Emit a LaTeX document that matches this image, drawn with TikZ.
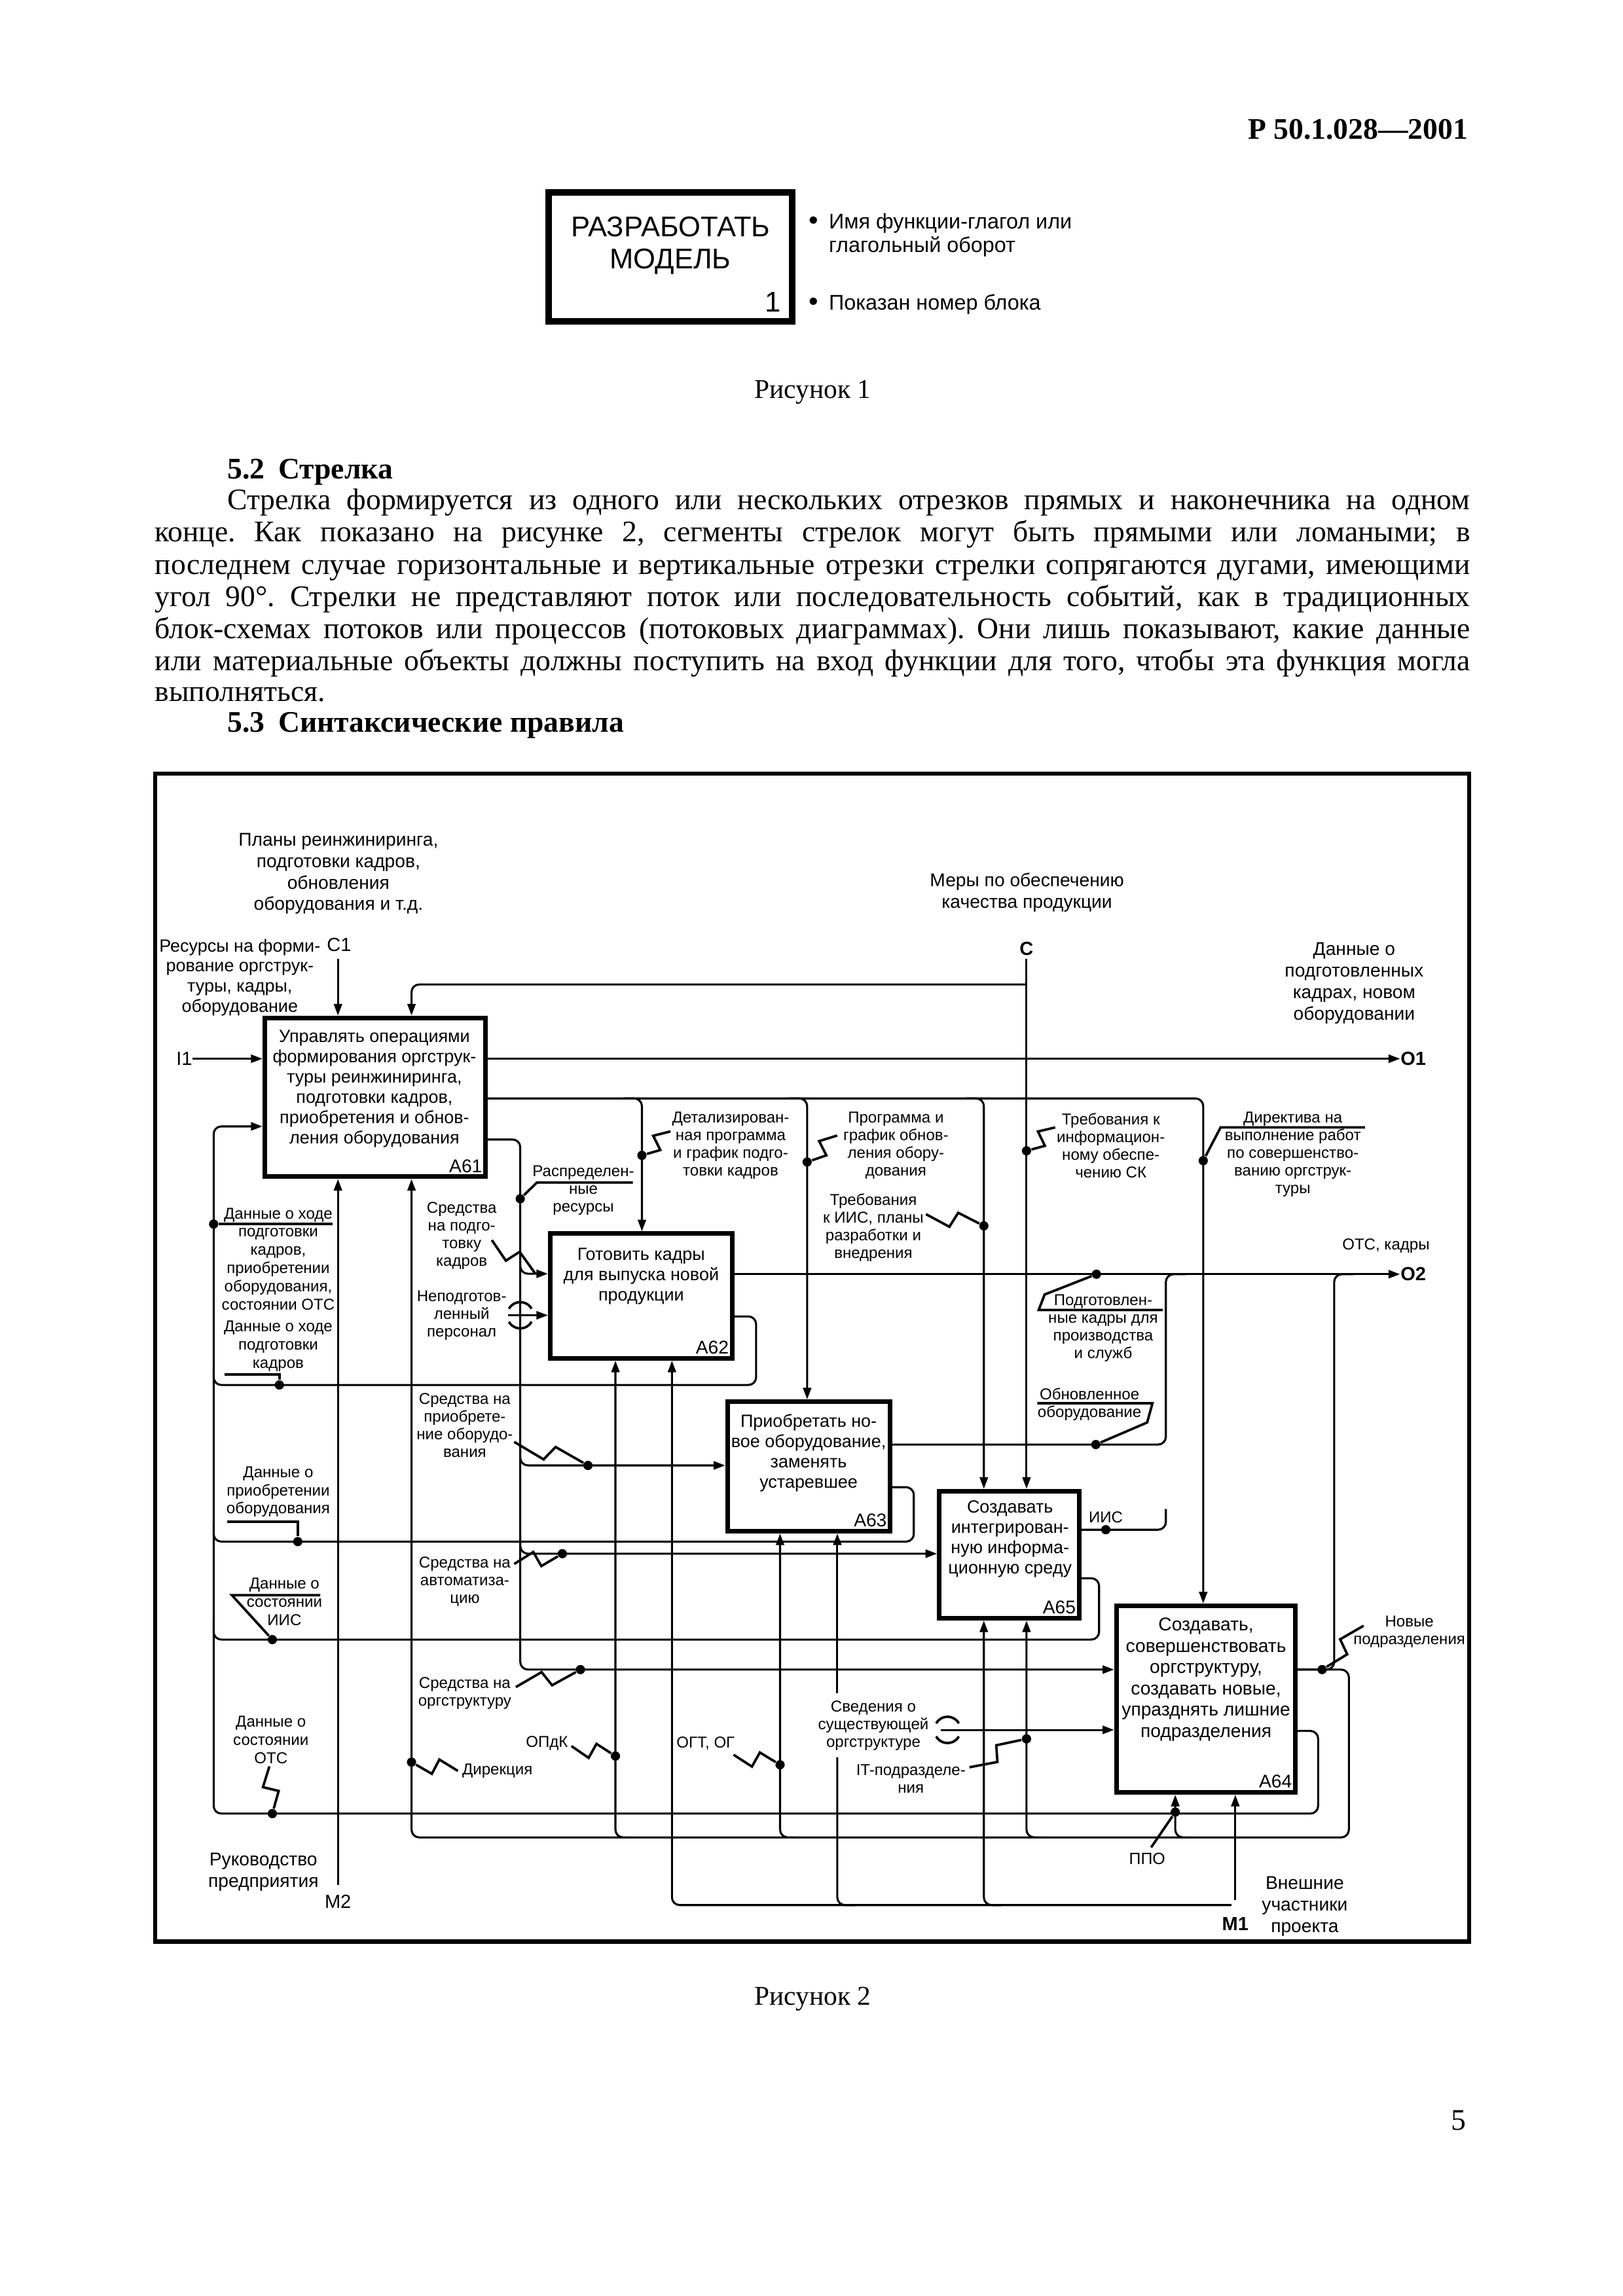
\documentclass[tikz,border=0pt]{standalone}
\usepackage{fontspec}
\setmainfont{Liberation Serif}
\newfontfamily\arialf{Liberation Sans}
\usetikzlibrary{arrows.meta,calc,fit}
\frenchspacing
\newcommand\fsz[2]{\fontsize{#1}{#2}\selectfont}
\newcommand\zig[3]{\draw[sq] (#1) -- ($(#1)!0.43!(#2)!#3!-90:(#2)$) -- ($(#1)!0.53!(#2)!#3!90:(#2)$) -- (#2);}
\begin{document}
\begin{tikzpicture}[x=0.1904mm,y=-0.1904mm,
 ln/.style={line width=0.75pt,rounded corners=1mm},
 arr/.style={ln,-{Triangle[length=1.5mm,width=1.05mm]}},
 fbox/.style={draw,line width=1.7pt,inner sep=0pt},
 dotn/.style={circle,fill,inner sep=0pt,minimum size=1.2mm},
 sq/.style={line width=0.9pt},
 btxt/.style={font=\arialf\fsz{6.5}{7.5},align=center,inner sep=0pt},
 ctxt/.style={font=\arialf\fsz{5.8}{6.5},align=center,inner sep=0pt},
 ltxt/.style={font=\arialf\fsz{5.8}{6.7},align=center,inner sep=0pt},
 ttxt/.style={font=\arialf\fsz{6.8}{7.9},align=center,inner sep=0pt},
 code/.style={font=\arialf\fsz{7}{8},inner sep=0pt},
 bcode/.style={font=\arialf\bfseries\fsz{7}{8},inner sep=0pt},
 num/.style={font=\arialf\fsz{6.8}{8},inner sep=0pt,anchor=base east},
 body/.style={font=\fsz{11}{13},inner sep=0pt,anchor=base west},
 head/.style={font=\bfseries\fsz{11}{13},inner sep=0pt,anchor=base west},
]
\fill[white] (0,0) rectangle (1103,1561);
\useasboundingbox (0,0) rectangle (1103,1561);

% ---------- page header and figure 1
\node[font=\bfseries\fsz{11}{13},anchor=base east,inner sep=0pt] (hdr) at (998,94.6) {Р 50.1.028—2001};
\node[draw,line width=2.4pt,inner sep=0pt,fit={(373,131)(538.5,218.5)}] (F1) {};
\node[font=\arialf\fsz{10.5}{11.9},align=center,inner sep=0pt] (F1t) at (455.7,167) {РАЗРАБОТАТЬ\\МОДЕЛЬ};
\node[font=\arialf\fsz{10.5}{12},inner sep=0pt] (F1n) at (525.5,205.4) {1};
\node[font=\arialf\fsz{10}{10},inner sep=0pt] (bu1) at (553,151.5) {•};
\node[font=\arialf\fsz{7.8}{8.6},inner sep=0pt,anchor=west,align=left] (bt1) at (563,159.7) {Имя функции-глагол или\\глагольный оборот};
\node[font=\arialf\fsz{10}{10},inner sep=0pt] (bu2) at (553,207) {•};
\node[font=\arialf\fsz{7.8}{8.6},inner sep=0pt,anchor=west] (bt2) at (563,207) {Показан номер блока};
\node[font=\fsz{10}{12},inner sep=0pt] (cap1) at (552.5,266.8) {Рисунок 1};

% ---------- text
\node[head] (h52) at (154.3,325.6) {5.2\hspace{0.45em}Стрелка};
\node[body] (b1) at (154.3,346.5) {\makebox[160.8mm][s]{Стрелка формируется из одного или нескольких отрезков прямых и наконечника на одном}};
\node[body] (b2) at (105,368.4) {\makebox[170.2mm][s]{конце. Как показано на рисунке 2, сегменты стрелок могут быть прямыми или ломаными; в}};
\node[body] (b3) at (105,390.3) {\makebox[170.2mm][s]{последнем случае горизонтальные и вертикальные отрезки стрелки сопрягаются дугами, имеющими}};
\node[body] (b4) at (105,412.2) {\makebox[170.2mm][s]{угол 90°. Стрелки не представляют поток или последовательность событий, как в традиционных}};
\node[body] (b5) at (105,434) {\makebox[170.2mm][s]{блок-схемах потоков или процессов (потоковых диаграммах). Они лишь показывают, какие данные}};
\node[body] (b6) at (105,455.9) {\makebox[170.2mm][s]{или материальные объекты должны поступить на вход функции для того, чтобы эта функция могла}};
\node[body] (b7) at (105,476.9) {выполняться.};
\node[head] (h53) at (154.3,497.8) {5.3\hspace{0.45em}Синтаксические правила};

% ---------- figure 2 frame
\node[draw,line width=1.6pt,inner sep=0pt,fit={(105.5,526)(998.5,1320)}] (frame) {};

% boxes
\node[fbox,fit={(180,692)(330,800)}] (A61) {};
\node[fbox,fit={(374,838.7)(497.6,923.5)}] (A62) {};
\node[fbox,fit={(494.5,953)(605,1041)}] (A63) {};
\node[fbox,fit={(638.5,1013.8)(733.4,1100.2)}] (A65) {};
\node[fbox,fit={(758.8,1091.7)(880.4,1218.6)}] (A64) {};
\node[btxt] (tA61) at (254.5,740.2) {Управлять операциями\\формирования оргструк-\\туры реинжиниринга,\\подготовки кадров,\\приобретения и обнов-\\ления оборудования};
\node[btxt] (tA62) at (435.8,867.8) {Готовить кадры\\для выпуска новой\\продукции};
\node[btxt] (tA63) at (549.6,987.7) {Приобретать но-\\вое оборудование,\\заменять\\устаревшее};
\node[btxt] (tA65) at (686.5,1046.4) {Создавать\\интегрирован-\\ную информа-\\ционную среду};
\node[btxt,font=\arialf\fsz{6.8}{7.85}] (tA64) at (819.7,1141.9) {Создавать,\\совершенствовать\\оргструктуру,\\создавать новые,\\упразднять лишние\\подразделения};
\node[num] (nA61) at ($(A61.south east)+(-3.5,-4.5)$) {A61};
\node[num] (nA62) at ($(A62.south east)+(-3.5,-4.5)$) {A62};
\node[num] (nA63) at ($(A63.south east)+(-3.5,-4.5)$) {A63};
\node[num] (nA65) at ($(A65.south east)+(-3.5,-4.5)$) {A65};
\node[num] (nA64) at ($(A64.south east)+(-3.5,-4.5)$) {A64};

% outer labels
\node[ttxt] (tPlan) at (230,594) {Планы реинжиниринга,\\подготовки кадров,\\обновления\\оборудования и т.д.};
\node[ttxt,font=\arialf\fsz{6.5}{7.4}] (tRes) at (163,664.5) {Ресурсы на форми-\\рование оргструк-\\туры, кадры,\\оборудование};
\node[code] (C1) at (230.5,642.3) {C1};
\node[ttxt] (tMery) at (698,606.7) {Меры по обеспечению\\качества продукции};
\node[bcode] (Cn) at (697.7,644.9) {C};
\node[ttxt] (tDan) at (920.4,668.4) {Данные о\\подготовленных\\кадрах, новом\\оборудовании};
\node[code,anchor=east] (I1) at (131,719.8) {I1};
\node[bcode,anchor=west] (O1) at (951.6,719.8) {O1};
\node[ctxt] (tOTS) at (942,847) {ОТС, кадры};
\node[bcode,anchor=west] (O2) at (951.6,866.3) {O2};
\node[code] (M2) at (229.7,1292.9) {M2};
\node[ttxt] (tRuk) at (179,1272.6) {Руководство\\предприятия};
\node[bcode] (M1) at (839.6,1307.9) {M1};
\node[ttxt] (tVn) at (886.8,1296) {Внешние\\участники\\проекта};

% main connectors
\draw[arr] (I1.east) -- (I1.east -| A61.west);
\draw[arr] (A61.east |- O1.west) -- (O1.west);
\draw[arr] (229.7,652) -- (229.7,0 |- A61.north);
\draw[arr] (Cn |- 0,652) -- (Cn |- A65.north);
\draw[arr] (Cn |- 0,669.3) -- (279.7,669.3) -- (279.7,0 |- A61.north);

\draw[arr] (A61.east |- 0,746.8) -- (817.8,746.8) -- (817.8,0 |- A64.north);
\draw[arr] (424,746.8) -- (436.3,746.8) -- (436.3,0 |- A62.north);
\draw[arr] (536.5,746.8) -- (548.6,746.8) -- (548.6,0 |- A63.north);
\draw[arr] (656.5,746.8) -- (668.7,746.8) -- (668.7,0 |- A65.north);

\draw[arr] (A61.east |- 0,774.7) -- (353.6,774.7) -- (353.6,1135.1) -- (A64.west |- 0,1135.1);
\draw[arr] (353.6,854) -- (353.6,866) -- (A62.west |- 0,866);
\draw[arr] (353.6,984) -- (353.6,996.3) -- (A63.west |- 0,996.3);
\draw[arr] (353.6,1044) -- (353.6,1056.3) -- (A65.west |- 0,1056.3);

\draw[arr] (A64.east |- 0,1176.8) -- (895.9,1176.8) -- (895.9,1233) -- (145.2,1233) -- (145.2,765.8) -- (A61.west |- 0,765.8);
\draw[ln] (A62.east |- 0,895) -- (513.9,895) -- (513.9,941.6) -- (145.2,941.6) -- (145.2,929);
\draw[ln] (A63.east |- 0,1011.1) -- (621.1,1011.1) -- (621.1,1048.1) -- (145.2,1048.1) -- (145.2,1035);
\draw[ln] (A65.east |- 0,1073) -- (747,1073) -- (747,1114.7) -- (145.2,1114.7) -- (145.2,1102);

\draw[arr] (A62.east |- O2.west) -- (O2.west);
\draw[ln] (A63.east |- 0,982.1) -- (792.4,982.1) -- (792.4,866.3) -- (806,866.3);
\draw[ln] (A65.east |- 0,1040) -- (792.4,1040) -- (792.4,1026);
\draw[ln] (A64.east |- 0,1135.1) -- (906.8,1135.1) -- (906.8,866.3) -- (920,866.3);
\draw[arr] (A64.east |- 0,1135.1) -- (916.8,1135.1) -- (916.8,1249.2) -- (279.7,1249.2) -- (279.7,0 |- A61.south);
\draw[arr] (811,1249.2) -- (798.8,1249.2) -- (798.8,0 |- A64.south);
\draw[arr] (430.5,1249.2) -- (418.3,1249.2) -- (418.3,0 |- A62.south);
\draw[arr] (542.4,1249.2) -- (530.2,1249.2) -- (530.2,0 |- A63.south);
\draw[arr] (709.9,1249.2) -- (697.7,1249.2) -- (697.7,0 |- A65.south);

\draw[arr] (836.9,1295.2) -- (456.7,1295.2) -- (456.7,0 |- A62.south);
\draw[ln] (581.3,1295.2) -- (569.1,1295.2) -- (569.1,1194.7);
\draw[arr] (569.1,1151.3) -- (569.1,0 |- A63.south);
\draw[arr] (680.9,1295.2) -- (668.7,1295.2) -- (668.7,0 |- A65.south);
\draw[arr] (M1 |- 0,1291.7) -- (M1 |- A64.south);
\draw[arr] (M2 |- 0,1281.6) -- (M2 |- A61.south);

% tunnels
\draw[arr] (345.4,894.2) -- (A62.west |- 0,894.2);
\draw[sq] (353.6,894.2) ++(30:1.7mm) arc[start angle=30,end angle=150,radius=1.7mm];
\draw[sq] (353.6,894.2) ++(210:1.7mm) arc[start angle=210,end angle=330,radius=1.7mm];
\draw[arr] (639.6,1176.1) -- (A64.west |- 0,1176.1);
\draw[sq] (644,1176.1) ++(30:1.7mm) arc[start angle=30,end angle=150,radius=1.7mm];
\draw[sq] (644,1176.1) ++(210:1.7mm) arc[start angle=210,end angle=330,radius=1.7mm];

% dots
\node[dotn] (dBus) at (145.2,832.2) {};
\node[dotn] (dKadr) at (189.9,941.6) {};
\node[dotn] (dPriob) at (202.4,1048.1) {};
\node[dotn] (dIIS) at (185.1,1114.7) {};
\node[dotn] (dOTS) at (185.1,1233) {};
\node[dotn] (dRasp) at (353.6,815) {};
\node[dotn] (dSrPr) at (399.6,996.3) {};
\node[dotn] (dSrAv) at (382.2,1056.3) {};
\node[dotn] (dSrOr) at (394.5,1135.1) {};
\node[dotn] (dDir) at (279.7,1198) {};
\node[dotn] (dOPdK) at (418.3,1193.9) {};
\node[dotn] (dOGT) at (530.2,1199.8) {};
\node[dotn] (dIT) at (697.7,1182.2) {};
\node[dotn] (dDet) at (436.3,785.5) {};
\node[dotn] (dProg) at (548.6,790) {};
\node[dotn] (dTrSK) at (697.7,782.4) {};
\node[dotn] (dTrIIS) at (668.7,833.4) {};
\node[dotn] (dDirek) at (817.8,789.1) {};
\node[dotn] (dPodg) at (745.2,866.3) {};
\node[dotn] (dObn) at (744.8,982.1) {};
\node[dotn] (dIISo) at (751.6,1040) {};
\node[dotn] (dNov) at (898.6,1135.1) {};
\node[dotn] (dPPO) at (798.8,1232) {};

% callouts
\node[ctxt] (tDet) at (496.6,778.7) {Детализирован-\\ная программа\\и график подго-\\товки кадров};
\coordinate (eDet) at (455.7,769.2); \zig{eDet}{dDet}{1mm}
\node[ctxt] (tProg) at (608.9,778.7) {Программа и\\график обнов-\\ления обору-\\дования};
\coordinate (eProg) at (569,772); \zig{eProg}{dProg}{1mm}
\node[ctxt] (tTrSK) at (755,779) {Требования к\\информацион-\\ному обеспе-\\чению СК};
\coordinate (eTrSK) at (717.2,766.5); \zig{eTrSK}{dTrSK}{1mm}
\node[ctxt] (tDirek) at (878.7,784.9) {Директива на\\выполнение работ\\по совершенство-\\ванию оргструк-\\туры};
\draw[sq] (927.7,766.5) -- (829.6,766.5) -- (dDirek);
\node[ctxt] (tRasp) at (396.5,809.2) {Распределен-\\ные\\ресурсы};
\draw[sq] (430.1,804) -- (364.9,804) -- (dRasp);
\node[ctxt] (tSrPk) at (313.8,840) {Средства\\на подго-\\товку\\кадров};
\coordinate (eSrPk) at (334.3,843.1); \coordinate (aSrPk) at (363.9,866); \zig{eSrPk}{aSrPk}{1mm}
\node[ctxt] (tNep) at (313.8,894.3) {Неподготов-\\ленный\\персонал};
\node[ctxt] (tTrIIS) at (593.6,834.5) {Требования\\к ИИС, планы\\разработки и\\внедрения};
\coordinate (eTrIIS) at (629.4,825.5); \zig{eTrIIS}{dTrIIS}{1mm}
\node[ltxt] (tHod) at (189.1,855.9) {Данные о ходе\\подготовки\\кадров,\\приобретении\\оборудования,\\состоянии ОТС};
\draw[sq] (dBus) -- (225.9,832.2);
\node[ltxt] (tHod2) at (189.1,915.3) {Данные о ходе\\подготовки\\кадров};
\draw[sq] (152.5,934.6) -- (189.9,934.6) -- (dKadr);
\node[ctxt] (tSrPr) at (315.9,969.2) {Средства на\\приобрете-\\ние оборудо-\\вания};
\coordinate (eSrPr) at (349.5,980.3); \zig{eSrPr}{dSrPr}{1mm}
\node[ltxt] (tPriob) at (189.1,1014.2) {Данные о\\приобретении\\оборудования};
\draw[sq] (154.4,1034.6) -- (202.4,1034.6) -- (dPriob);
\node[ctxt] (tSrAv) at (315.9,1075.2) {Средства на\\автоматиза-\\цию};
\coordinate (eSrAv) at (349.5,1063.3); \zig{eSrAv}{dSrAv}{-1mm}
\node[ltxt] (tIIS) at (193.3,1089.1) {Данные о\\состоянии\\ИИС};
\draw[sq] (217.7,1084.5) -- (157.6,1084.5) -- (dIIS);
\node[ctxt] (tSrOr) at (315.9,1151.3) {Средства на\\оргструктуру};
\coordinate (eSrOr) at (350.6,1147); \zig{eSrOr}{dSrOr}{-1mm}
\node[ltxt] (tOTSd) at (184.1,1182.8) {Данные о\\состоянии\\ОТС};
\coordinate (eOTS) at (183.1,1200.9); \zig{eOTS}{dOTS}{1mm}
\node[ctxt,anchor=west] (tDir) at (313.8,1204) {Дирекция};
\coordinate (eDir) at (311.2,1204); \zig{eDir}{dDir}{1mm}
\node[ctxt] (tOPdK) at (371.7,1185.3) {ОПдК};
\coordinate (eOPdK) at (388.4,1187.1); \zig{eOPdK}{dOPdK}{1mm}
\node[ctxt] (tOGT) at (479.6,1185.3) {ОГТ, ОГ};
\coordinate (eOGT) at (498.6,1193); \zig{eOGT}{dOGT}{1mm}
\node[ctxt] (tSved) at (593.6,1173.3) {Сведения о\\существующей\\оргструктуре};
\node[ctxt] (tIT) at (619.1,1209.2) {IT-подразделе-\\ния};
\coordinate (eIT) at (658.9,1201.5); \zig{eIT}{dIT}{1mm}
\node[ctxt,font=\arialf\fsz{6}{7}] (tPPO) at (779.7,1263.6) {ППО};
\draw[sq] (782.4,1256) -- (dPPO);
\node[ctxt] (tNov) at (957.9,1109.6) {Новые\\подразделения};
\coordinate (eNov) at (926.8,1105.3); \zig{eNov}{dNov}{1mm}
\node[ctxt] (tPodg) at (749.8,902.9) {Подготовлен-\\ные кадры для\\производства\\и служб};
\draw[sq] (790.2,890.6) -- (706,890.6) -- (710,880.1) -- (dPodg);
\node[ctxt] (tObn) at (740.5,954.8) {Обновленное\\оборудование};
\draw[sq] (705,954) -- (783.3,954) -- (779.7,967.1) -- (dObn);
\node[ctxt] (tIISo) at (751.6,1031.4) {ИИС};

% captions
\node[font=\fsz{10}{12},inner sep=0pt] (cap2) at (552.5,1358.9) {Рисунок 2};
\node[font=\fsz{11}{13},inner sep=0pt,anchor=base east] (pg) at (997,1448) {5};
\end{tikzpicture}
\end{document}
